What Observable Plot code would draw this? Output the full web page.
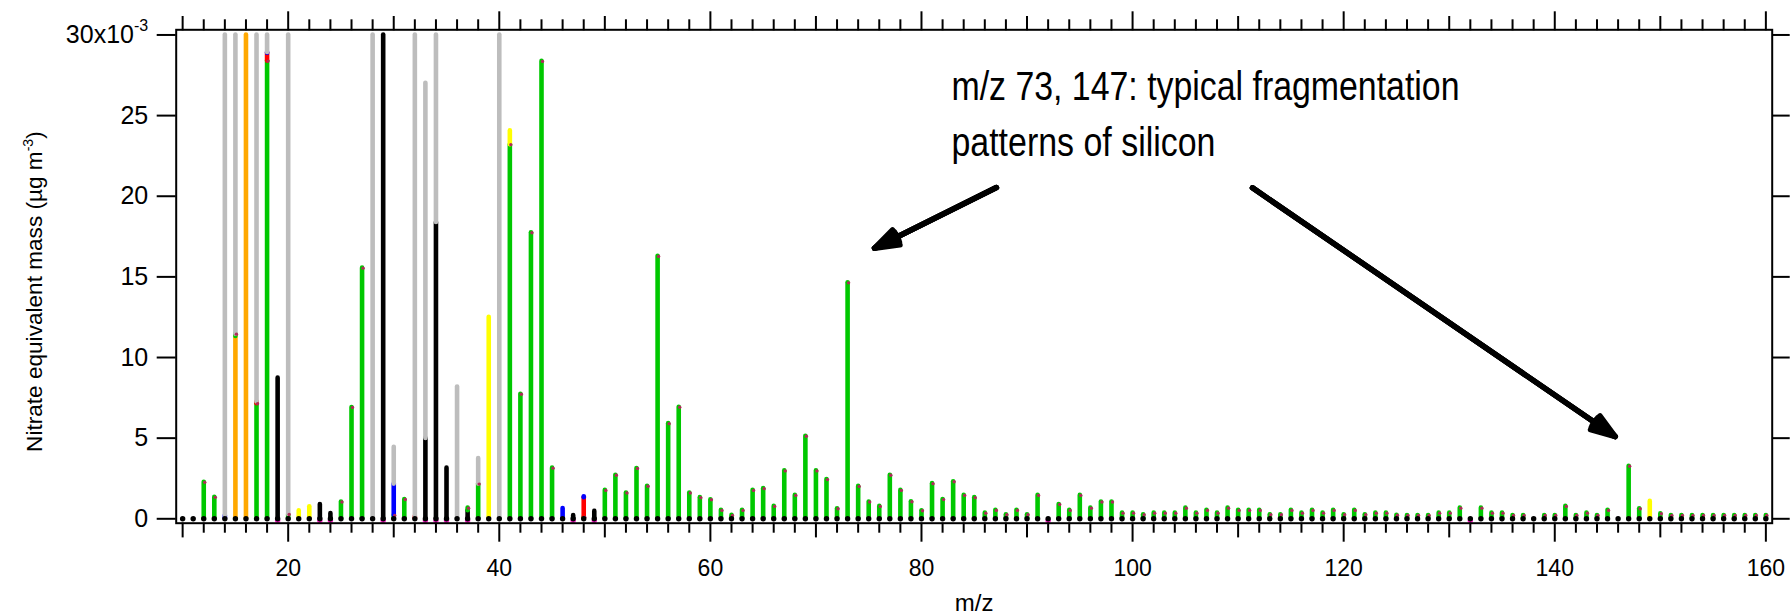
<!DOCTYPE html>
<html><head><meta charset="utf-8">
<script src="https://cdn.jsdelivr.net/npm/d3@7"></script>
<script src="https://cdn.jsdelivr.net/npm/@observablehq/plot@0.6"></script>
<style>
body{margin:0;background:#fff}
svg{font-family:"Liberation Sans",Arial,Helvetica,sans-serif}
</style>
</head><body><div id="chart"></div>
<script>
// m/z categories 10..160
const mzValues = d3.range(10, 161);

// Organic (green) signal, one value per m/z from 10 to 160 (x10^-3 ug m^-3)
const org = [
  0, 0, 2.26, 1.33, 0, 0.15, 0, 7.14, 28.38, 0,          // 10-19
  0.27, 0, 0, 0, 0, 1.04, 6.9, 15.54, 0, 0,              // 20-29
  0.2, 1.2, 0, 0, 0, 0, 0, 0.16, 2.15, 0,                // 30-39
  0, 23.2, 7.72, 17.74, 28.36, 3.14, 0, 0, 0.1, 0,       // 40-49
  1.76, 2.7, 1.6, 3.12, 2.02, 16.27, 5.9, 6.92, 1.6, 1.31, // 50-59
  1.18, 0.52, 0.21, 0.52, 1.76, 1.87, 0.77, 2.97, 1.45, 5.12, // 60-69
  2.97, 2.43, 0.62, 14.63, 2.01, 1.04, 0.77, 2.7, 1.76, 1.06, // 70-79
  0.5, 2.18, 1.19, 2.3, 1.45, 1.31, 0.35, 0.52, 0.25, 0.52,   // 80-89
  0.25, 1.45, 0, 0.89, 0.52, 1.45, 0.66, 1.04, 1.04, 0.35,    // 90-99
  0.35, 0.25, 0.35, 0.35, 0.35, 0.66, 0.35, 0.52, 0.35, 0.66, // 100-109
  0.52, 0.52, 0.52, 0.25, 0.25, 0.52, 0.35, 0.52, 0.35, 0.52, // 110-119
  0.25, 0.52, 0.25, 0.35, 0.35, 0.22, 0.2, 0.2, 0.2, 0.35,    // 120-129
  0.35, 0.66, 0, 0.66, 0.35, 0.35, 0.2, 0.2, 0, 0.2,          // 130-139
  0.2, 0.77, 0.2, 0.35, 0.2, 0.52, 0, 3.26, 0.62, 0,          // 140-149
  0.31, 0.2, 0.2, 0.2, 0.2, 0.2, 0.2, 0.2, 0.2, 0.2, 0.2      // 150-160
];

// Other families (sparse)
const otherMz = [19, 23, 24, 29, 33, 34, 35, 37, 47, 49];
const otherVal = [8.72, 0.89, 0.33, 30, 4.98, 18.37, 3.14, 0.5, 0.2, 0.46];
const nh4Mz = [15, 16];
const nh4Val = [11.3, 30];
const so4Mz = [17, 18, 32, 48];
const so4Val = [0.1, 0.49, 0.15, 1.21];
const no3Mz = [14, 18, 30, 46, 48];
const no3Val = [0.2, 0.05, 1.95, 0.64, 0.05];
const kMz = [21, 22, 39, 41, 149];
const kVal = [0.49, 0.75, 12.49, 0.85, 1.08];
const airMz = [14, 15, 17, 18, 20, 28, 30, 32, 33, 34, 36, 38, 40];
const airVal = [29.8, 18.55, 22.76, 1.08, 29.73, 30, 2.28, 29.85, 22.02, 11.63, 8.17, 1.59, 30];
const chlBaseMz = [19, 23, 24, 29, 33, 34, 35, 37, 47, 49, 92, 132];

const speciesOrder = ["Other", "NH4", "Org", "SO4", "NO3", "K", "Air"];
const speciesColors = ["#000000", "#ffa800", "#00c800", "#ff0000", "#0000ff", "#ffff00", "#bdbdbd"];

const yTicks = [0, 5, 10, 15, 20, 25, 30];
const xMajorTicks = [20, 40, 60, 80, 100, 120, 140, 160];
const xMediumTicks = [10, 30, 50, 70, 90, 110, 130, 150];
const xMinorTicks = d3.range(12, 160, 2).filter(d => d % 10 !== 0);

const annotation = [
  {mz: 82.84, value: 25.98, text: "m/z 73, 147: typical fragmentation", width: 508},
  {mz: 82.84, value: 22.52, text: "patterns of silicon", width: 264}
];
const arrows = [
  {x1: 87.1, y1: 20.54, x2: 75.55, y2: 16.78},
  {x1: 111.36, y1: 20.52, x2: 145.73, y2: 5.1}
];
const headAngles = [38, 26, 14];

// Build long table
const rows = [];
function addSeries(name, mzs, vals) {
  mzs.forEach((m, i) => { if (vals[i] > 0) rows.push({mz: m, value: vals[i], species: name}); });
}
addSeries("Other", otherMz, otherVal);
addSeries("NH4", nh4Mz, nh4Val);
addSeries("Org", mzValues, org);
addSeries("SO4", so4Mz, so4Val);
addSeries("NO3", no3Mz, no3Val);
addSeries("K", kMz, kVal);
addSeries("Air", airMz, airVal);
rows.sort((a, b) => speciesOrder.indexOf(a.species) - speciesOrder.indexOf(b.species));

// top of organic segment (for the small cap markers)
const baseLookup = new Map();
otherMz.forEach((m, i) => baseLookup.set(m, (baseLookup.get(m) || 0) + otherVal[i]));
nh4Mz.forEach((m, i) => baseLookup.set(m, (baseLookup.get(m) || 0) + nh4Val[i]));
const orgTops = mzValues.map((m, i) => ({mz: m, top: (baseLookup.get(m) || 0) + org[i], v: org[i]})).filter(d => d.v > 0);

const fontY = 25, fontX = 23;

const chart = Plot.plot({
  width: 1791,
  height: 616,
  marginTop: 29.3,
  marginBottom: 93.3,
  marginLeft: 175.7,
  marginRight: 19.3,
  style: {fontFamily: '"Liberation Sans", Arial, sans-serif', color: "#000", background: "#fff"},
  x: {domain: [9.39, 160.6], label: null},
  y: {domain: [-0.273, 30.32], label: null},
  color: {domain: speciesOrder, range: speciesColors},
  marks: [
    // stems
    Plot.ruleX(rows, Plot.stackY({x: "mz", y: "value", z: "species", order: speciesOrder, stroke: "species", strokeWidth: 4.6, strokeLinecap: "round"})),
    Plot.dot(orgTops, {x: "mz", y: "top", r: 1.7, fill: "#b02a5a", dx: 1}),
    // base markers
    Plot.dot(chlBaseMz, {x: d => d, y: d => 0, r: 2.7, dy: 1.8, fill: "#ff22cc"}),
    Plot.dot(mzValues, {x: d => d, y: d => 0, r: 2.7, fill: "#000"}),
    // frame
    Plot.frame({stroke: "#000", strokeWidth: 2}),
    // axes
    Plot.axisY({anchor: "left", ticks: yTicks, tickSize: 19, tickPadding: 9, strokeWidth: 2, fontSize: fontY, label: null,
      tickFormat: d => d === 30 ? "30x10-3" : String(d)}),
    Plot.axisY({anchor: "right", ticks: yTicks, tickSize: 17, strokeWidth: 2, label: null, tickFormat: () => ""}),
    Plot.axisX({anchor: "bottom", ticks: xMajorTicks, tickSize: 19, tickPadding: 17, strokeWidth: 2, fontSize: fontX, label: null, tickFormat: d => String(d)}),
    Plot.axisX({anchor: "bottom", ticks: xMediumTicks, tickSize: 14.7, strokeWidth: 2, label: null, tickFormat: () => ""}),
    Plot.axisX({anchor: "bottom", ticks: xMinorTicks, tickSize: 10, strokeWidth: 2, label: null, tickFormat: () => ""}),
    Plot.axisX({anchor: "top", ticks: xMajorTicks, tickSize: 19, strokeWidth: 2, label: null, tickFormat: () => ""}),
    Plot.axisX({anchor: "top", ticks: xMediumTicks, tickSize: 14.3, strokeWidth: 2, label: null, tickFormat: () => ""}),
    Plot.axisX({anchor: "top", ticks: xMinorTicks, tickSize: 11, strokeWidth: 2, label: null, tickFormat: () => ""}),
    // axis titles
    Plot.text(["m/z"], {frameAnchor: "bottom", dy: 88, lineAnchor: "bottom", fontSize: 24, text: d => d, fill: "#000"}),
    Plot.text(["Nitrate equivalent mass (µg m-3)"], {frameAnchor: "bottom-left", dx: -134, dy: -71.3, rotate: -90, textAnchor: "start", lineAnchor: "bottom", fontSize: 22.6, text: d => d, fill: "#000"}),
    // annotation
    Plot.text(annotation, {x: "mz", y: "value", text: "text", textAnchor: "start", lineAnchor: "bottom", fontSize: 40, fill: "#000"}),
    ...headAngles.map(a => Plot.arrow(arrows, {x1: "x1", y1: "y1", x2: "x2", y2: "y2", stroke: "#000", strokeWidth: 5.5, headLength: 7, headAngle: a}))
  ]
});

document.getElementById("chart").appendChild(chart);

// superscripts and condensed annotation lettering
const svg = d3.select(chart);
svg.selectAll("text").each(function() {
  const t = d3.select(this);
  const s = this.textContent;
  if (s === "30x10-3") {
    t.text(null);
    t.append("tspan").text("30x10");
    t.append("tspan").attr("font-size", 16).attr("dy", -12).text("-3");
  } else if (s === "Nitrate equivalent mass (µg m-3)") {
    t.text(null);
    t.append("tspan").text("Nitrate equivalent mass (µg m");
    t.append("tspan").attr("font-size", 14).attr("dy", -9).text("-3");
    t.append("tspan").attr("dy", 9).text(")");
  } else {
    const a = annotation.find(d => d.text === s);
    if (a) t.attr("textLength", a.width).attr("lengthAdjust", "spacingAndGlyphs");
  }
});
</script>
</body></html>
